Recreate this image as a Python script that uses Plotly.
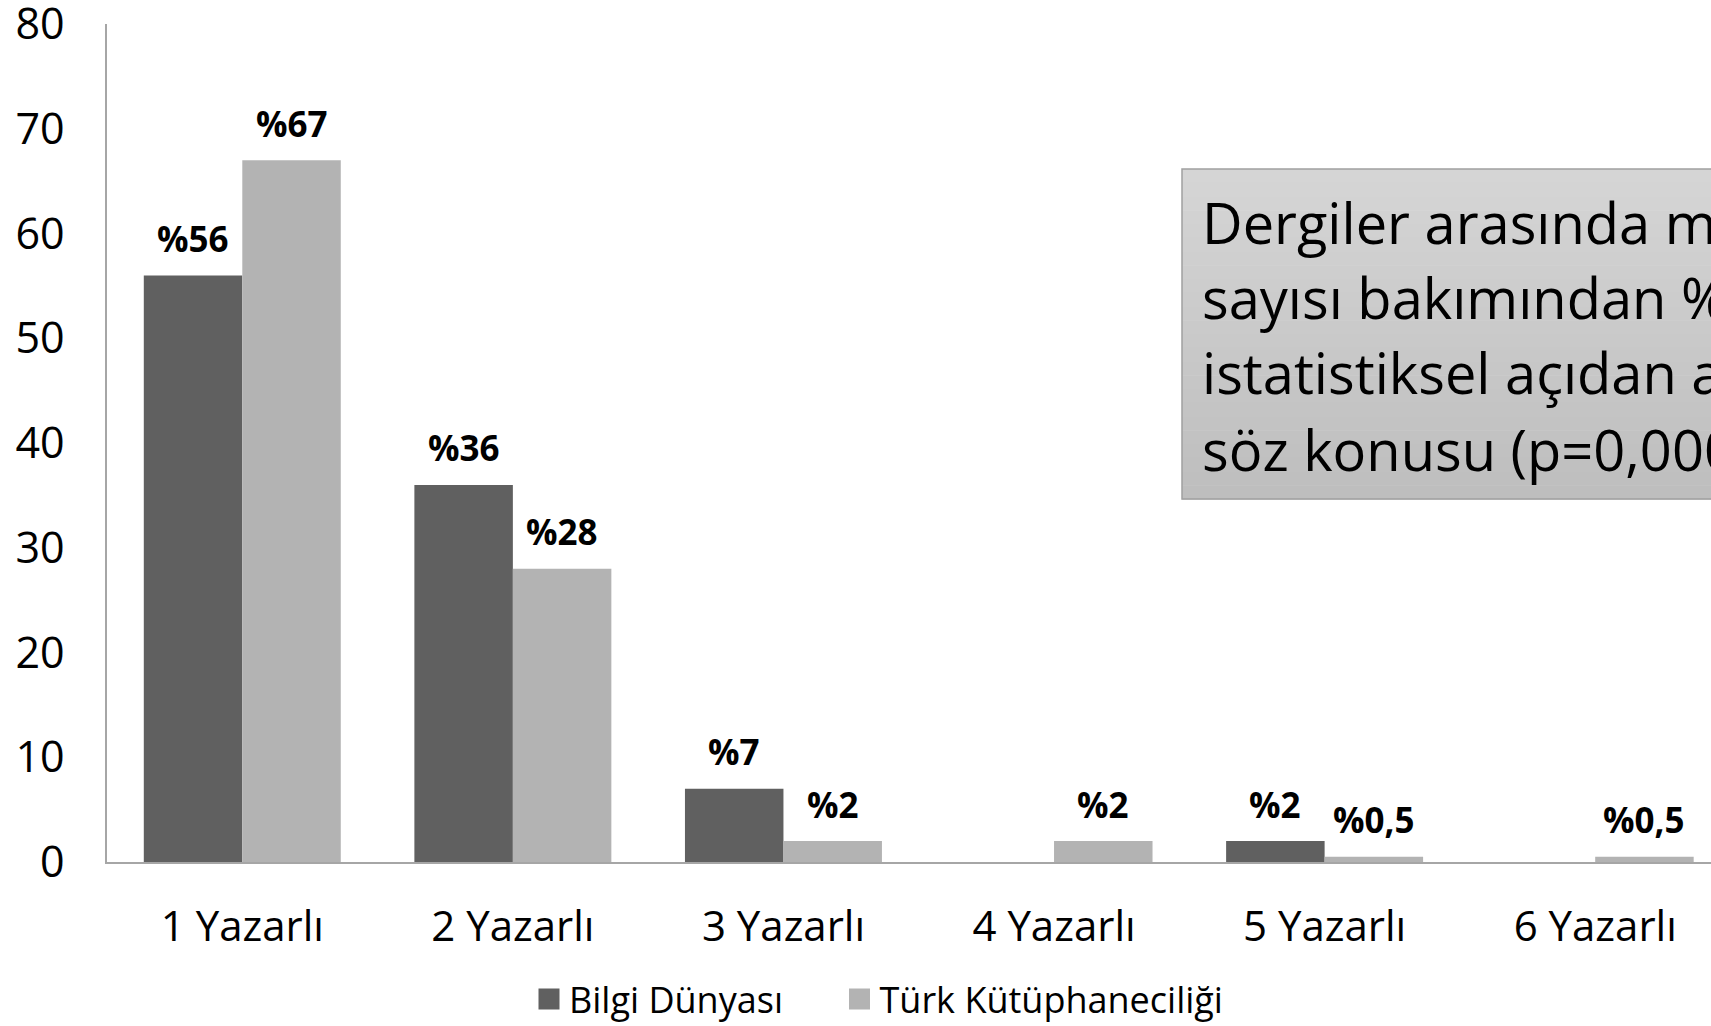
import plotly.graph_objects as go

categories = ["1 Yazarlı", "2 Yazarlı", "3 Yazarlı", "4 Yazarlı", "5 Yazarlı", "6 Yazarlı"]
series_names = ["Bilgi Dünyası", "Türk Kütüphaneciliği"]
bilgi_dunyasi = [56, 36, 7, None, 2, None]
turk_kutuphaneciligi = [67, 28, 2, 2, 0.5, 0.5]
bilgi_labels = ["%56", "%36", "%7", "", "%2", ""]
turk_labels = ["%67", "%28", "%2", "%2", "%0,5", "%0,5"]
y_ticks = [0, 10, 20, 30, 40, 50, 60, 70, 80]
note_lines = ["Dergiler arasında m", "sayısı bakımından %", "istatistiksel açıdan a", "söz konusu (p=0,000"]

DARK = "#606060"
LIGHT = "#b3b3b3"
AXIS = "#a6a6a6"
FONT = "Open Sans"

OFF = 0  # page body margin (removed by post_script)
W, H = 1711, 1026
PLOT_TOP, PLOT_BOTTOM = 24, 862  # target page coords
ML, MR = 107 - OFF, 0
MT = PLOT_TOP - OFF
MB = H - (PLOT_BOTTOM - OFF)
PW, PH = W - ML - MR, H - MT - MB

def ty(ypx):  # target page y -> paper
    return (PLOT_BOTTOM - ypx) / PH

def tx(xpx):  # target page x -> paper
    return (xpx - OFF - ML) / PW

fig = go.Figure()
fig.add_trace(go.Bar(x=categories, y=bilgi_dunyasi, name=series_names[0],
                     marker=dict(color=DARK, line=dict(width=0)), showlegend=False))
fig.add_trace(go.Bar(x=categories, y=turk_kutuphaneciligi, name=series_names[1],
                     marker=dict(color=LIGHT, line=dict(width=0)), showlegend=False))
# legend entries with square markers, each in its own legend
for nm, col, lg in zip(series_names, [DARK, LIGHT], ["legend", "legend2"]):
    fig.add_trace(go.Scatter(x=[None], y=[None], mode="markers", name=nm, legend=lg,
                             marker=dict(symbol="square", size=16, color=col,
                                         line=dict(color=col, width=5))))

# data labels
cat_w = PW / 5.928
half = cat_w * 0.728 / 4
annotations = []
for vals, labs, sh in [(bilgi_dunyasi, bilgi_labels, -half), (turk_kutuphaneciligi, turk_labels, half)]:
    for c, v, t in zip(categories, vals, labs):
        if v is None or not t:
            continue
        annotations.append(dict(x=c, y=v, xref="x", yref="y", text=t, showarrow=False,
                                xshift=sh, yshift=37, yanchor="middle",
                                font=dict(family=FONT, size=35, color="black", weight="bold")))

# note box text
line_y = [221.5, 297, 372, 448.5]
for ln, yp in zip(note_lines, line_y):
    annotations.append(dict(x=tx(1200), y=ty(yp), xref="paper", yref="paper",
                            text=ln, showarrow=False, xanchor="left", yanchor="middle",
                            font=dict(family=FONT, size=56, color="black")))

# note box with vertical gradient
shapes = []
x0, x1 = tx(1182), 1.1
ytop, ybot = 169, 499
n = 24
c_top, c_bot = (0xd6, 0xd6, 0xd6), (0xbd, 0xbd, 0xbd)
for i in range(n):
    f = (i + 0.5) / n
    col = tuple(int(round(a + (b - a) * f)) for a, b in zip(c_top, c_bot))
    ya = ytop + (ybot - ytop) * i / n
    yb = ytop + (ybot - ytop) * (i + 1) / n + 0.6
    shapes.append(dict(type="rect", xref="paper", yref="paper", layer="below",
                       x0=x0, x1=x1, y0=ty(yb), y1=ty(ya),
                       fillcolor="rgb(%d,%d,%d)" % col, line=dict(width=0)))
shapes.append(dict(type="rect", xref="paper", yref="paper", layer="below",
                   x0=x0, x1=x1, y0=ty(ybot), y1=ty(ytop),
                   fillcolor="rgba(0,0,0,0)", line=dict(color="#a0a0a0", width=1.5)))

legend_common = dict(orientation="h", xanchor="left", y=ty(999), yanchor="middle",
                     font=dict(family=FONT, size=36, color="black"),
                     bgcolor="rgba(0,0,0,0)")

fig.update_layout(
    width=W, height=H,
    margin=dict(l=ML, r=MR, t=MT, b=MB, pad=0, autoexpand=False),
    paper_bgcolor="white", plot_bgcolor="white",
    barmode="group", bargap=0.272, bargroupgap=0,
    font=dict(family=FONT, color="black"),
    annotations=annotations, shapes=shapes,
    legend=dict(x=tx(549.5 - 20.5), **legend_common),
    legend2=dict(x=tx(860 - 20.5), **legend_common),
    xaxis=dict(type="category", categoryorder="array", categoryarray=categories,
               range=[-0.5, 5.428], showline=True, linecolor=AXIS, linewidth=1.5,
               showgrid=False, ticks="", tickfont=dict(family=FONT, size=42, color="black"),
               ticklabelstandoff=27, ticklabeloverflow="allow", fixedrange=True, automargin=False),
    yaxis=dict(range=[0, 80], tickvals=y_ticks, showline=True, linecolor=AXIS, linewidth=1.5,
               showgrid=False, zeroline=False, ticks="", tickfont=dict(family=FONT, size=43, color="black"),
               ticklabelstandoff=32, ticklabeloverflow="allow", automargin=False),
)

fig.write_html("out.html", config={"displayModeBar": False},
               post_script="document.body.style.margin='0px';document.body.style.overflow='hidden';")
